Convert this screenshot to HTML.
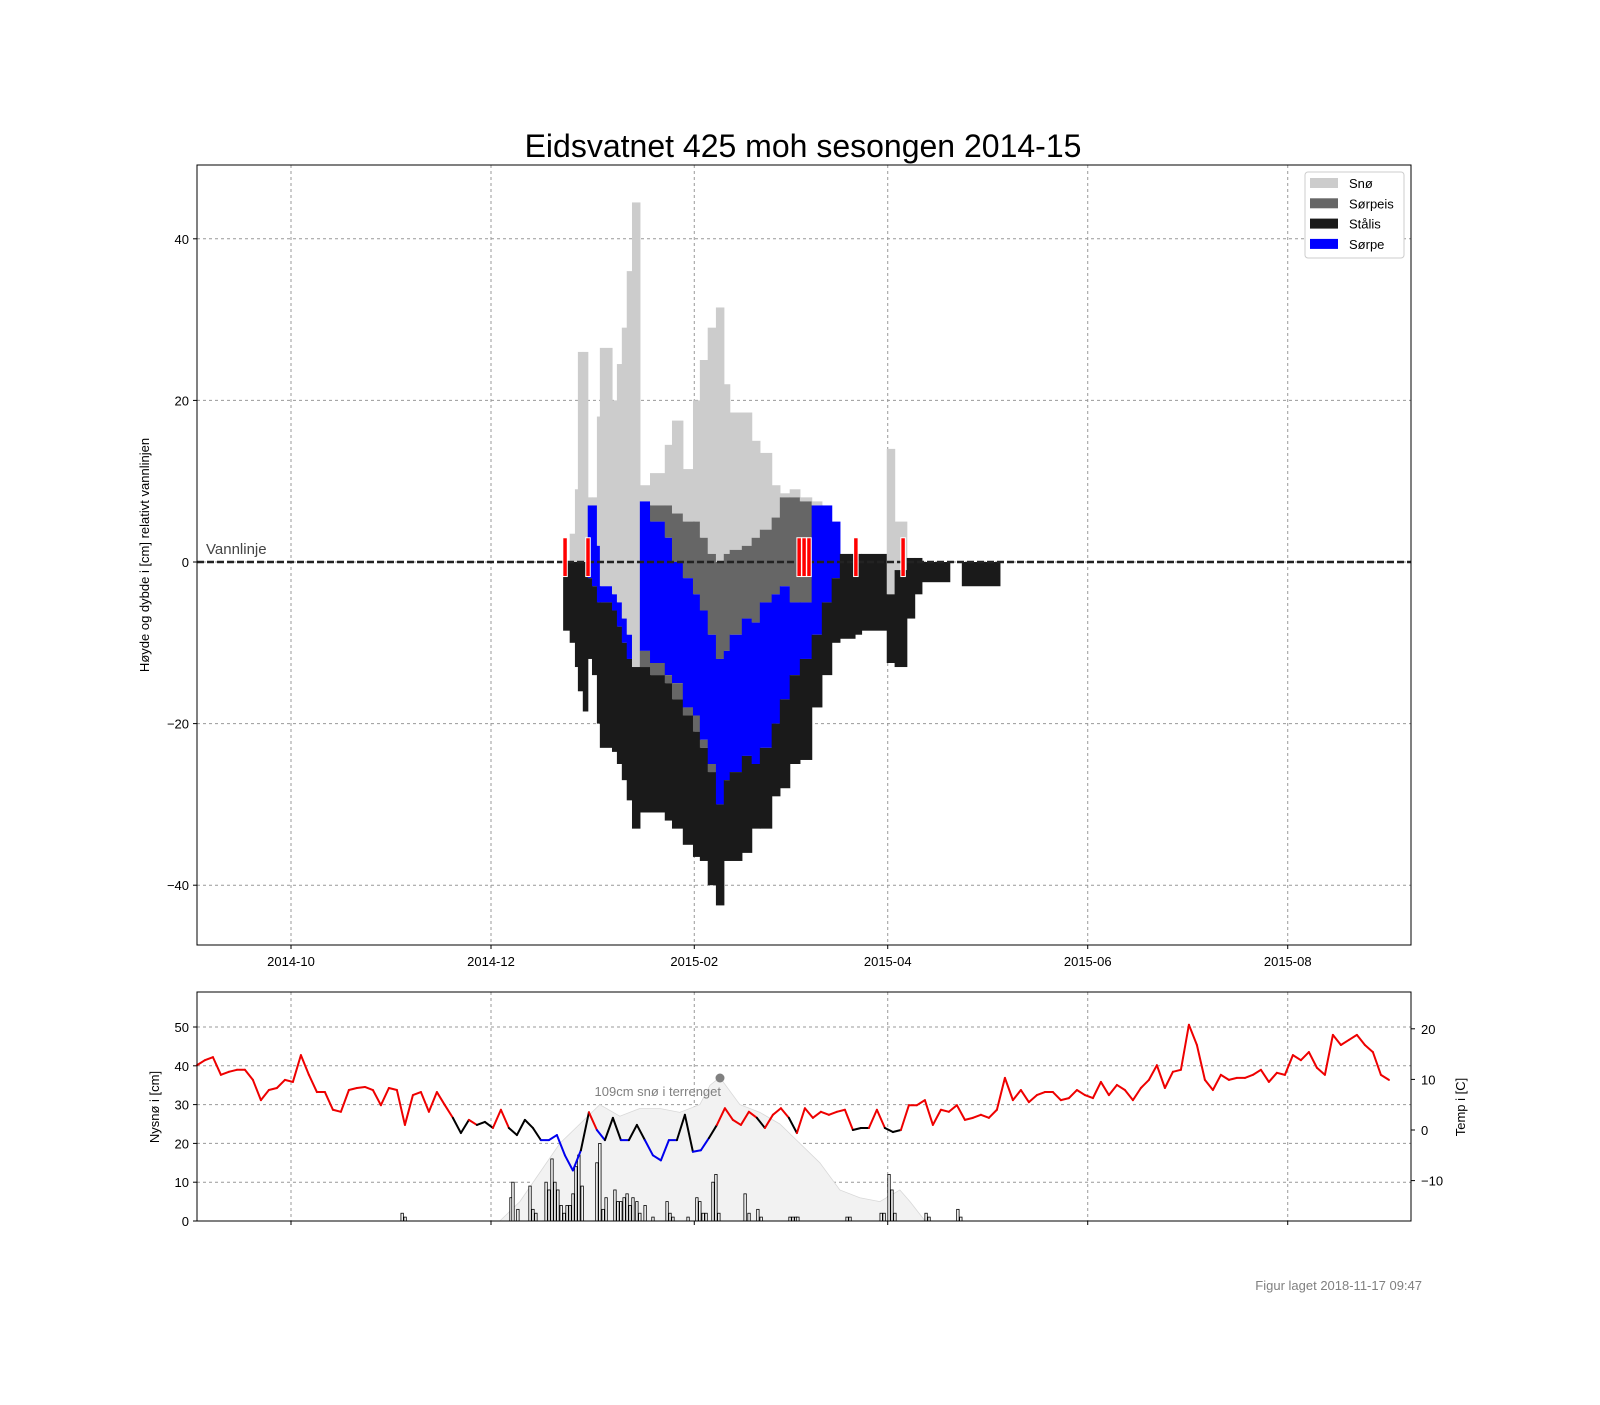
<!DOCTYPE html>
<html><head><meta charset="utf-8"><style>
body{margin:0;background:#fff}
svg text{font-family:"Liberation Sans","DejaVu Sans",sans-serif}
</style></head><body>
<svg id="chart" width="1600" height="1400" xmlns="http://www.w3.org/2000/svg">
<rect width="1600" height="1400" fill="#fff"/>
<text x="803" y="157" font-size="32" text-anchor="middle">Eidsvatnet 425 moh sesongen 2014-15</text>
<g id="main"></g>
<g id="bottom"></g>
<text transform="translate(149,555) rotate(-90)" font-size="13" text-anchor="middle">Høyde og dybde i [cm] relativt vannlinjen</text>
<text transform="translate(159,1107) rotate(-90)" font-size="13" text-anchor="middle">Nysnø i [cm]</text>
<text transform="translate(1465,1107) rotate(-90)" font-size="13" text-anchor="middle">Temp i [C]</text>
<text x="1422" y="1290" font-size="13" fill="#808080" text-anchor="end">Figur laget 2018-11-17 09:47</text>
</svg>
<script>
// days relative to 2014-10-01
const tickLabels=["2014-10","2014-12","2015-02","2015-04","2015-06","2015-08"];
const tickDays=[0,61,123,182,243,304];
const yTicksMain=[40,20,0,-20,-40];
const segDays=[83,85,86.6,87.5,89,90.5,91.8,93.3,94.2,97.9,99.4,100.9,102.4,104,106.4,109.5,114,116.2,119.5,122.6,124.7,127.1,129.6,132,133.8,137.5,140.5,143,146.6,149.1,152.1,155.2,158.8,161.9,164.9,167.4,172,174,181.7,184.1,187.8,190.2,192.4,200.9,204.6];
const segEnd=216.2;
const snowTop=[0,3.5,9,26,26,8,8,18,26.5,20,24.5,29,36,44.5,9.5,11,14.5,17.5,11.5,20,25,29,31.5,22,18.5,18.5,15,13.5,9.5,8.5,9,8,7.5,7,5,1,1,1,14,5,0.5,0.5,0,0,0];
const snowBot=[0,0,0,0,0,7,7,2,-3,-4,-5,-7,-9,-13,7.5,7,7,6,5,5,3,1,0,1,1.5,2,3,4,5.5,8,8,7.5,7,7,5,1,1,1,-4,-1,0.5,0.5,0,0,0];
const sorpeTop=[0,0,0,0,0,7,7,2,-3,-4,-5,-7,-9,-13,7.5,5,3,0,-2,-4,-6,-9,-12,-11,-9,-7,-7.5,-5,-4,-3,-5,-5,7,7,5,1,1,1,-4,-1,0.5,0.5,0,0,0];
const sorpeBot=[0,0,0,0,0,-2,-3,-5,-5,-6,-8,-10,-12,-13,-11,-12.5,-14,-15,-18,-19,-22,-25,-30,-27,-26,-24,-25,-23,-20,-17,-14,-12,-9,-5,-2,1,1,1,-4,-1,0.5,0.5,0,0,0];
const lowBot=[0,0,0,0,0,-2,-3,-5,-5,-6,-8,-10,-12,-13,-13,-14,-15,-17,-19,-21,-23,-26,-30,-27,-26,-24,-25,-23,-20,-17,-14,-12,-9,-5,-2,1,1,1,-4,-1,0.5,0.5,0,0,0];
const iceBot=[-8.5,-10,-13,-16,-18.5,-12,-14,-20,-23,-23.5,-25,-27,-29.5,-33,-31,-31,-32,-33,-35,-36.5,-37,-40,-42.5,-37,-37,-36,-33,-33,-29,-28,-25,-24.5,-18,-14,-10,-9.5,-9,-8.5,-12.5,-13,-7,-4,-2.5,0,-3];
const markerDays=[82.9,89.9,154.3,155.8,157.3,171.6,186];
// bottom panel
const tempStart=-28.7, tempStep=2.44;
const temps=[12.8,13.8,14.4,10.9,11.5,11.9,11.9,9.9,5.9,7.9,8.3,9.9,9.5,14.8,10.9,7.5,7.5,4,3.6,7.9,8.3,8.5,7.9,4.9,8.3,7.9,1,6.9,7.5,3.6,7.5,4.9,2.4,-0.6,2,1,1.6,0.4,4,0.4,-1,2,0.4,-2,-2,-1,-5,-8,-4,3.5,0,-2,2.4,-2,-2,1,-2,-5,-6,-2,-2,3,-4.3,-4,-1.6,1,4.3,2,1,3.6,2.4,0.4,3,4.3,2.4,-0.6,4.3,2.4,3.6,3,3.6,4,0,0.4,0.4,4,0.4,-0.4,0,4.9,4.9,5.9,1,4,3.6,4.9,2,2.4,3,2.4,4,10.3,5.9,7.9,5.5,6.9,7.5,7.5,5.9,6.3,7.9,6.9,6.3,9.5,6.9,8.9,7.9,5.9,8.3,9.9,12.8,8.3,11.5,11.9,20.8,16.8,9.9,7.9,10.9,9.9,10.3,10.3,10.9,11.9,9.5,11.3,10.9,14.8,13.8,15.4,12.3,10.9,18.8,16.8,17.8,18.8,16.8,15.4,10.9,9.9];
const terrDays=[63.7,69.8,82,88.1,94.2,100.3,106.4,112.5,118.6,124.7,127.8,130.8,136.9,143,149.1,155.2,161.3,167.4,173.5,179.6,185.7,188.8,193.4];
const terrSnow=[0,5,20,25,30,27,29,29,28,30,35,37,30,28,25,20,15,8,6,5,8,5,0];
const newSnowDays=[33.9,34.8,67.1,67.7,69.2,72.9,73.8,74.7,77.8,78.7,79.6,80.5,81.4,82.4,83.3,84.2,85.1,86,86.9,87.8,88.8,93.3,94.2,95.2,96.1,98.8,99.7,100.6,101.6,102.5,103.4,104.3,105.5,106.4,108,110.4,114.7,115.6,116.5,121.1,123.8,124.7,125.7,126.6,128.7,129.6,130.5,138.5,139.7,142.4,143.4,152.2,153.1,154,154.6,169.6,170.5,180,180.9,182.4,183.3,184.2,193.7,194.6,203.4,204.3];
const newSnow=[2,1,6,10,3,9,3,2,10,8,16,10,8,4,2,4,4,7,14,17,9,15,20,3,6,8,5,5,6,7,4,6,5,2,4,1,5,2,1,1,6,5,2,2,10,12,2,7,2,3,1,1,1,1,1,1,1,2,2,12,8,2,2,1,3,1];
const leftTicksB=[0,10,20,30,40,50];
const rightTicksB=[-10,0,10,20];

const NS='http://www.w3.org/2000/svg';
const X=d=>291+d*200/61;
const Ym=v=>562-v*8.08;
const Yb=v=>1221-v*3.88;
const Yt=v=>1130-v*5.06;
function mk(parent,tag,attrs){const e=document.createElementNS(NS,tag);for(const k in attrs)e.setAttribute(k,attrs[k]);parent.appendChild(e);return e;}
const main=document.getElementById('main'), bot=document.getElementById('bottom');
const ML=197,MR=1411,MT=165,MB=945,BT=992,BB=1221;
tickDays.forEach((d,i)=>{
  let g=mk(main,'line',{x1:X(d),x2:X(d),y1:MT,y2:MB,stroke:'#999','stroke-dasharray':'3,3','stroke-width':1});
  
  mk(main,'line',{x1:X(d),x2:X(d),y1:MB,y2:MB+4,stroke:'#000'});
  let tx=mk(main,'text',{x:X(d),y:MB+21,'font-size':13,'text-anchor':'middle'});tx.textContent=tickLabels[i];
  
  let g2=mk(bot,'line',{x1:X(d),x2:X(d),y1:BT,y2:BB,stroke:'#999','stroke-dasharray':'3,3'});
  
  mk(bot,'line',{x1:X(d),x2:X(d),y1:BB,y2:BB+4,stroke:'#000'});
});
yTicksMain.forEach(v=>{
  let g=mk(main,'line',{x1:ML,x2:MR,y1:Ym(v),y2:Ym(v),stroke:'#999','stroke-dasharray':'3,3'});
  
  mk(main,'line',{x1:ML-4,x2:ML,y1:Ym(v),y2:Ym(v),stroke:'#000'});
  let tx=mk(main,'text',{x:ML-8,y:Ym(v)+5,'font-size':13,'text-anchor':'end'});tx.textContent=(v<0?'\u2212'+(-v):v);
  
});
function band(d0,d1,top,bottom,color,name){
  if(top<=bottom)return;
  let r=mk(main,'rect',{x:X(d0),y:Ym(top),width:X(d1)-X(d0)+0.6,height:Ym(bottom)-Ym(top),fill:color});
  
}
segDays.forEach((d,i)=>{
  const d1=i+1<segDays.length?segDays[i+1]:segEnd;
  band(d,d1,snowTop[i],snowBot[i],'#cccccc','snow-bar');
  band(d,d1,snowBot[i],sorpeTop[i],'#666666','sorpeis-bar');
  band(d,d1,sorpeTop[i],sorpeBot[i],'#0000ff','sorpe-bar');
  band(d,d1,sorpeBot[i],lowBot[i],'#666666','sorpeis-bar');
  band(d,d1,lowBot[i],iceBot[i],'#1a1a1a','stalis-bar');
});
let wl=mk(main,'line',{x1:ML,x2:MR,y1:Ym(0),y2:Ym(0),stroke:'#222','stroke-width':2.5,'stroke-dasharray':'7,3'});

let wt=mk(main,'text',{x:206,y:554,'font-size':15,fill:'#444'});wt.textContent='Vannlinje';

markerDays.forEach(d=>{
  let r=mk(main,'rect',{x:X(d),y:Ym(3),width:4.5,height:Ym(-1.8)-Ym(3),fill:'#ff0000',stroke:'#fff','stroke-width':1});
  
});
mk(main,'rect',{x:ML,y:MT,width:MR-ML,height:MB-MT,fill:'none',stroke:'#000'});
const lg=mk(main,'g',{});

mk(lg,'rect',{x:1305,y:172,width:99,height:86,rx:3,fill:'#fff',stroke:'#ccc'});
[['Snø','#cccccc'],['Sørpeis','#666666'],['Stålis','#1a1a1a'],['Sørpe','#0000ff']].forEach((e,i)=>{
  const g=mk(lg,'g',{});
  
  mk(g,'rect',{x:1310,y:178+i*20.3,width:28,height:10,fill:e[1]});
  const t=mk(g,'text',{x:1349,y:188+i*20.3,'font-size':13});t.textContent=e[0];
});
leftTicksB.forEach(v=>{
  let g=mk(bot,'line',{x1:ML,x2:MR,y1:Yb(v),y2:Yb(v),stroke:'#999','stroke-dasharray':'3,3'});
  
  mk(bot,'line',{x1:ML-4,x2:ML,y1:Yb(v),y2:Yb(v),stroke:'#000'});
  let tx=mk(bot,'text',{x:ML-8,y:Yb(v)+5,'font-size':13,'text-anchor':'end'});tx.textContent=v;
  
});
rightTicksB.forEach(v=>{
  mk(bot,'line',{x1:MR,x2:MR+4,y1:Yt(v),y2:Yt(v),stroke:'#000'});
  let tx=mk(bot,'text',{x:MR+10,y:Yt(v)+5,'font-size':13});tx.textContent=(v<0?'\u2212'+(-v):v);
  
});
let pts=terrDays.map((d,i)=>X(d)+','+Yb(terrSnow[i])).join(' ');
pts=X(terrDays[0])+','+Yb(0)+' '+pts+' '+X(terrDays[terrDays.length-1])+','+Yb(0);
let ta=mk(bot,'polygon',{points:pts,fill:'#f2f2f2',stroke:'#d8d8d8','stroke-width':0.8});

newSnowDays.forEach((d,i)=>{
  let r=mk(bot,'rect',{x:X(d)-1.2,y:Yb(newSnow[i]),width:2.4,height:Yb(0)-Yb(newSnow[i]),fill:'#fff',stroke:'#000','stroke-width':0.8});
  
});
for(let i=0;i<temps.length-1;i++){
  const a=temps[i],b=temps[i+1],m=(a+b)/2;
  const c=m>=1.5?'#ee0000':(m<=-1?'#0000ee':'#000');
  let l=mk(bot,'line',{x1:X(tempStart+i*tempStep),y1:Yt(a),x2:X(tempStart+(i+1)*tempStep),y2:Yt(b),stroke:c,'stroke-width':2,'stroke-linecap':'round'});
  
}
let dot=mk(bot,'circle',{cx:720,cy:1078,r:4.5,fill:'#808080'});

let dl=mk(bot,'text',{x:721,y:1096,'font-size':13,fill:'#808080','text-anchor':'end'});dl.textContent='109cm snø i terrenget';

mk(bot,'rect',{x:ML,y:BT,width:MR-ML,height:BB-BT,fill:'none',stroke:'#000'});
</script>
</body></html>
